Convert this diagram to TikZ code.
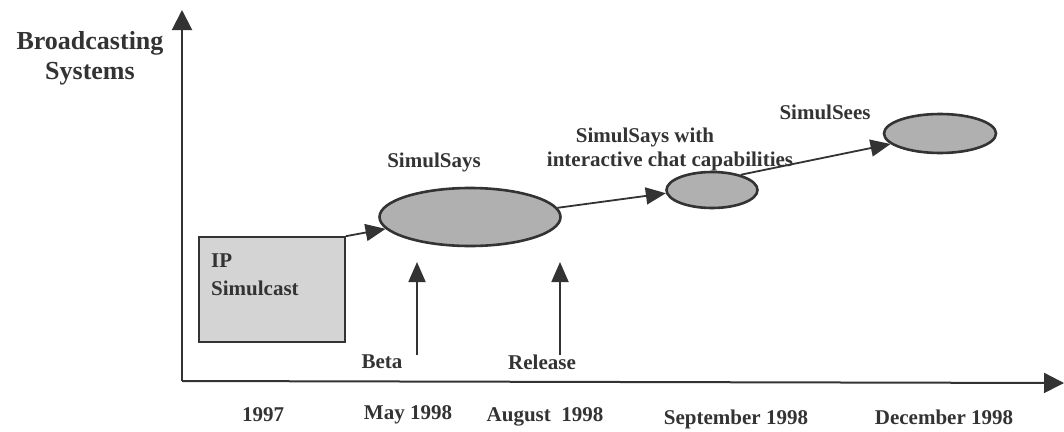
\documentclass[tikz,border=0pt]{standalone}
\usepackage{fontspec}
\setmainfont{Liberation Serif}
\usetikzlibrary{shapes.geometric,arrows.meta}
\definecolor{ink}{HTML}{333333}
\definecolor{boxfill}{HTML}{D4D4D4}
\definecolor{ellfill}{HTML}{B0B0B0}
\tikzset{
  lbl/.style={font=\fontsize{21}{24}\selectfont\bfseries, text=ink, inner sep=0pt},
  ttl/.style={font=\fontsize{26}{30}\selectfont\bfseries, text=ink, inner sep=0pt, align=center},
  phase/.style={ellipse, draw=ink, line width=2.6pt, fill=ellfill, inner sep=0pt},
  conn/.style={draw=ink, line width=1.8pt, -{Triangle[length=20pt,width=17pt]}},
  axis/.style={draw=ink, line width=2pt, -{Triangle[length=20pt,width=20pt]}}
}
\begin{document}
\begin{tikzpicture}[x=1pt,y=-1pt]
\useasboundingbox (0,0) rectangle (1064,431);
% axes
\coordinate (o) at (182,381);
\coordinate (ytip) at (182,10);
\coordinate (xtip) at (1064,383);
\draw[axis] (o) -- (ytip);
\draw[axis] (o) -- (xtip);
% title
\node[ttl] (title) at (90,58) {Broadcasting\\Systems};
% IP Simulcast box
\node[draw=ink, line width=1.6pt, fill=boxfill, minimum width=146pt, minimum height=105pt, inner sep=0pt] (ip) at (272,289.5) {};
\node[lbl, anchor=west, align=left, font=\fontsize{21}{28}\selectfont\bfseries] (iptxt) at (211,275) {IP\\Simulcast};
% phases
\node[phase, minimum width=181pt, minimum height=58pt] (ss) at (470,217) {};
\node[phase, minimum width=91pt, minimum height=36pt] (chat) at (712,190) {};
\node[phase, minimum width=112pt, minimum height=39pt] (sees) at (940,133.5) {};
% phase labels
\node[lbl] (sslbl) at (434,162) {SimulSays};
\node[lbl] (chatlbl1) at (645,137) {SimulSays with};
\node[lbl] (chatlbl2) at (670,161) {interactive chat capabilities};
\node[lbl] (seeslbl) at (825,112) {SimulSees};
% connectors
\draw[conn] (ip.north east) -- (ss.188);
\draw[conn] (ss.6) -- (chat.184);
\draw[conn] (chat.28) -- (sees.192);
% beta / release
\coordinate (betaS) at (417,355);
\coordinate (betaT) at (417,262);
\coordinate (relS) at (560,355);
\coordinate (relT) at (560,262);
\draw[conn] (betaS) -- (betaT);
\draw[conn] (relS) -- (relT);
\node[lbl] (beta) at (382,362) {Beta};
\node[lbl] (release) at (542,362) {Release};
% dates
\node[lbl] (d1) at (263,415) {1997};
\node[lbl] (d2) at (408,415) {May 1998};
\node[lbl] (d3) at (545,417) {August\ \ 1998};
\node[lbl] (d4) at (736,419) {September 1998};
\node[lbl] (d5) at (944,417) {December 1998};
\end{tikzpicture}
\end{document}
